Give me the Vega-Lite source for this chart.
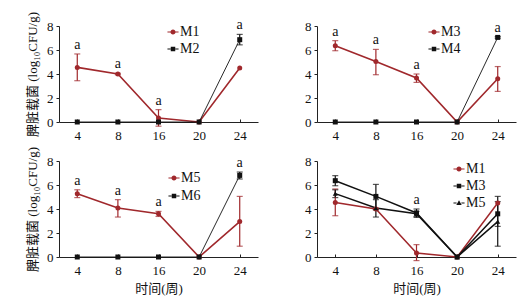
{
  "$schema": "https://vega.github.io/schema/vega-lite/v6.json",
  "background": "white",
  "padding": {"left": 26, "top": 11, "right": 5, "bottom": 5},
  "datasets": {
    "d": [
      {"p": 1, "s": "M1", "week": 4, "mean": 4.55, "lo": 3.44, "hi": 5.67, "sig": "a"},
      {"p": 1, "s": "M1", "week": 8, "mean": 4.0, "lo": 3.94, "hi": 4.06, "sig": "a"},
      {"p": 1, "s": "M1", "week": 16, "mean": 0.33, "lo": -0.35, "hi": 1.03, "sig": "a"},
      {"p": 1, "s": "M1", "week": 20, "mean": 0.0},
      {"p": 1, "s": "M1", "week": 24, "mean": 4.5},
      {"p": 1, "s": "M2", "week": 4, "mean": 0.0},
      {"p": 1, "s": "M2", "week": 8, "mean": 0.0},
      {"p": 1, "s": "M2", "week": 16, "mean": 0.0},
      {"p": 1, "s": "M2", "week": 20, "mean": 0.0},
      {"p": 1, "s": "M2", "week": 24, "mean": 6.86, "lo": 6.43, "hi": 7.3, "sig": "a"},
      {"p": 2, "s": "M3", "week": 4, "mean": 6.36, "lo": 5.94, "hi": 6.78, "sig": "a"},
      {"p": 2, "s": "M3", "week": 8, "mean": 5.05, "lo": 3.94, "hi": 6.05, "sig": "a"},
      {"p": 2, "s": "M3", "week": 16, "mean": 3.67, "lo": 3.3, "hi": 4.0, "sig": "a"},
      {"p": 2, "s": "M3", "week": 20, "mean": 0.0},
      {"p": 2, "s": "M3", "week": 24, "mean": 3.6, "lo": 2.55, "hi": 4.62},
      {"p": 2, "s": "M4", "week": 4, "mean": 0.0},
      {"p": 2, "s": "M4", "week": 8, "mean": 0.0},
      {"p": 2, "s": "M4", "week": 16, "mean": 0.0},
      {"p": 2, "s": "M4", "week": 20, "mean": 0.0},
      {"p": 2, "s": "M4", "week": 24, "mean": 7.05, "lo": 6.98, "hi": 7.12, "sig": "a"},
      {"p": 3, "s": "M5", "week": 4, "mean": 5.28, "lo": 4.95, "hi": 5.6, "sig": "a"},
      {"p": 3, "s": "M5", "week": 8, "mean": 4.08, "lo": 3.33, "hi": 4.78, "sig": "a"},
      {"p": 3, "s": "M5", "week": 16, "mean": 3.6, "lo": 3.38, "hi": 3.8, "sig": "a"},
      {"p": 3, "s": "M5", "week": 20, "mean": 0.0},
      {"p": 3, "s": "M5", "week": 24, "mean": 2.95, "lo": 0.9, "hi": 5.05},
      {"p": 3, "s": "M6", "week": 4, "mean": 0.0},
      {"p": 3, "s": "M6", "week": 8, "mean": 0.0},
      {"p": 3, "s": "M6", "week": 16, "mean": 0.0},
      {"p": 3, "s": "M6", "week": 20, "mean": 0.0},
      {"p": 3, "s": "M6", "week": 24, "mean": 6.8, "lo": 6.5, "hi": 7.08, "sig": "a"},
      {"p": 4, "s": "M1", "week": 4, "mean": 4.55, "lo": 3.44, "hi": 5.67},
      {"p": 4, "s": "M1", "week": 8, "mean": 4.0, "lo": 3.94, "hi": 4.06},
      {"p": 4, "s": "M1", "week": 16, "mean": 0.33, "lo": -0.3, "hi": 1.03},
      {"p": 4, "s": "M1", "week": 20, "mean": 0.0},
      {"p": 4, "s": "M1", "week": 24, "mean": 4.5},
      {"p": 4, "s": "M3", "week": 4, "mean": 6.36, "lo": 5.94, "hi": 6.78},
      {"p": 4, "s": "M3", "week": 8, "mean": 5.05, "lo": 3.94, "hi": 6.05},
      {"p": 4, "s": "M3", "week": 16, "mean": 3.67, "lo": 3.3, "hi": 4.0, "sig": "a"},
      {"p": 4, "s": "M3", "week": 20, "mean": 0.0},
      {"p": 4, "s": "M3", "week": 24, "mean": 3.6, "lo": 2.55, "hi": 4.62},
      {"p": 4, "s": "M5", "week": 4, "mean": 5.28, "lo": 4.95, "hi": 5.6},
      {"p": 4, "s": "M5", "week": 8, "mean": 4.08, "lo": 3.33, "hi": 4.78},
      {"p": 4, "s": "M5", "week": 16, "mean": 3.6, "lo": 3.38, "hi": 3.8},
      {"p": 4, "s": "M5", "week": 20, "mean": 0.0},
      {"p": 4, "s": "M5", "week": 24, "mean": 2.95, "lo": 0.9, "hi": 5.05}
    ]
  },
  "data": {"name": "d"},
  "vconcat": [
    {
      "hconcat": [
        {
          "width": 199, "height": 96,
          "transform": [{"filter": "datum.p == 1"}],
          "encoding": {"x": {"field": "week", "type": "ordinal", "scale": {"type": "point", "domain": [4, 8, 16, 20, 24], "padding": 0.45}, "axis": {"title": null, "labelAngle": 0, "tickSize": -3, "labelPadding": 10}}},
          "resolve": {"scale": {"color": "independent", "shape": "independent", "strokeWidth": "independent"}, "legend": {"color": "independent", "shape": "independent"}},
          "layer": [
            {"mark": {"type": "line"}, "encoding": {
              "y": {"field": "mean", "type": "quantitative", "scale": {"domain": [0, 8]}, "axis": {"title": "脾脏载菌 (log₁₀CFU/g)", "values": [0, 2, 4, 6, 8], "tickSize": 3, "labelPadding": 3, "titlePadding": 7}},
              "color": {"field": "s", "type": "nominal", "scale": {"domain": ["M1", "M2"], "range": ["#a0282c", "#111111"]}, "legend": null},
              "strokeWidth": {"field": "s", "type": "nominal", "scale": {"domain": ["M1", "M2"], "range": [1.6, 0.9]}, "legend": null}}},
            {"transform": [{"filter": "isValid(datum.lo)"}], "mark": {"type": "errorbar", "ticks": {"size": 6}, "thickness": 1.2}, "encoding": {
              "y": {"field": "lo", "type": "quantitative", "scale": {"domain": [0, 8]}, "axis": {"title": "脾脏载菌 (log₁₀CFU/g)", "values": [0, 2, 4, 6, 8], "tickSize": 3, "labelPadding": 3, "titlePadding": 7}}, "y2": {"field": "hi"},
              "color": {"field": "s", "type": "nominal", "scale": {"domain": ["M1", "M2"], "range": ["#a0282c", "#111111"]}, "legend": null}}},
            {"mark": {"type": "point", "filled": true, "opacity": 1, "size": 25}, "encoding": {
              "y": {"field": "mean", "type": "quantitative", "scale": {"domain": [0, 8]}, "axis": {"title": "脾脏载菌 (log₁₀CFU/g)", "values": [0, 2, 4, 6, 8], "tickSize": 3, "labelPadding": 3, "titlePadding": 7}},
              "color": {"field": "s", "type": "nominal", "scale": {"domain": ["M1", "M2"], "range": ["#a0282c", "#111111"]}, "legend": null},
              "shape": {"field": "s", "type": "nominal", "scale": {"domain": ["M1", "M2"], "range": ["circle", "square"]}, "legend": null}}},
            {"mark": {"type": "point", "filled": true, "opacity": 0, "size": 36}, "encoding": {
              "y": {"field": "mean", "type": "quantitative", "scale": {"domain": [0, 8]}, "axis": {"title": "脾脏载菌 (log₁₀CFU/g)", "values": [0, 2, 4, 6, 8], "tickSize": 3, "labelPadding": 3, "titlePadding": 7}},
              "color": {"field": "s", "type": "nominal", "scale": {"domain": ["M1", "M2"], "range": ["#a0282c", "#111111"]}, "legend": {"orient": "none", "legendX": 107, "legendY": -1, "title": null, "labelFontSize": 14, "labelColor": "#111111", "symbolSize": 36, "symbolOpacity": 1, "rowPadding": 3, "labelOffset": 0}},
              "shape": {"field": "s", "type": "nominal", "scale": {"domain": ["M1", "M2"], "range": ["M-1.85,-0.2H-0.8V0.2H-1.85ZM0.8,-0.2H1.85V0.2H0.8ZM0.85,0A0.85,0.85,0,1,1,-0.85,0A0.85,0.85,0,1,1,0.85,0Z", "M-1.85,-0.2H-0.8V0.2H-1.85ZM0.8,-0.2H1.85V0.2H0.8ZM-0.75,-0.75H0.75V0.75H-0.75Z"]}, "legend": {"orient": "none", "legendX": 107, "legendY": -1, "title": null, "labelFontSize": 14, "labelColor": "#111111", "symbolSize": 36, "symbolOpacity": 1, "rowPadding": 3, "labelOffset": 0}}}},
            {"transform": [{"filter": "isValid(datum.sig)"}], "mark": {"type": "text", "baseline": "alphabetic", "dy": -5, "fontSize": 14, "font": "Liberation Serif"}, "encoding": {
              "y": {"field": "hi", "type": "quantitative", "scale": {"domain": [0, 8]}, "axis": {"title": "脾脏载菌 (log₁₀CFU/g)", "values": [0, 2, 4, 6, 8], "tickSize": 3, "labelPadding": 3, "titlePadding": 7}}, "text": {"field": "sig"}, "color": {"value": "#111111"}}}
          ]
        },
        {
          "width": 199, "height": 96,
          "transform": [{"filter": "datum.p == 2"}],
          "encoding": {"x": {"field": "week", "type": "ordinal", "scale": {"type": "point", "domain": [4, 8, 16, 20, 24], "padding": 0.45}, "axis": {"title": null, "labelAngle": 0, "tickSize": -3, "labelPadding": 10}}},
          "resolve": {"scale": {"color": "independent", "shape": "independent", "strokeWidth": "independent"}, "legend": {"color": "independent", "shape": "independent"}},
          "layer": [
            {"mark": {"type": "line"}, "encoding": {
              "y": {"field": "mean", "type": "quantitative", "scale": {"domain": [0, 8]}, "axis": {"title": null, "values": [0, 2, 4, 6, 8], "tickSize": 3, "labelPadding": 3}},
              "color": {"field": "s", "type": "nominal", "scale": {"domain": ["M3", "M4"], "range": ["#a0282c", "#111111"]}, "legend": null},
              "strokeWidth": {"field": "s", "type": "nominal", "scale": {"domain": ["M3", "M4"], "range": [1.6, 0.9]}, "legend": null}}},
            {"transform": [{"filter": "isValid(datum.lo)"}], "mark": {"type": "errorbar", "ticks": {"size": 6}, "thickness": 1.2}, "encoding": {
              "y": {"field": "lo", "type": "quantitative", "scale": {"domain": [0, 8]}, "axis": {"title": null, "values": [0, 2, 4, 6, 8], "tickSize": 3, "labelPadding": 3}}, "y2": {"field": "hi"},
              "color": {"field": "s", "type": "nominal", "scale": {"domain": ["M3", "M4"], "range": ["#a0282c", "#111111"]}, "legend": null}}},
            {"mark": {"type": "point", "filled": true, "opacity": 1, "size": 25}, "encoding": {
              "y": {"field": "mean", "type": "quantitative", "scale": {"domain": [0, 8]}, "axis": {"title": null, "values": [0, 2, 4, 6, 8], "tickSize": 3, "labelPadding": 3}},
              "color": {"field": "s", "type": "nominal", "scale": {"domain": ["M3", "M4"], "range": ["#a0282c", "#111111"]}, "legend": null},
              "shape": {"field": "s", "type": "nominal", "scale": {"domain": ["M3", "M4"], "range": ["circle", "square"]}, "legend": null}}},
            {"mark": {"type": "point", "filled": true, "opacity": 0, "size": 36}, "encoding": {
              "y": {"field": "mean", "type": "quantitative", "scale": {"domain": [0, 8]}, "axis": {"title": null, "values": [0, 2, 4, 6, 8], "tickSize": 3, "labelPadding": 3}},
              "color": {"field": "s", "type": "nominal", "scale": {"domain": ["M3", "M4"], "range": ["#a0282c", "#111111"]}, "legend": {"orient": "none", "legendX": 110, "legendY": -1, "title": null, "labelFontSize": 14, "labelColor": "#111111", "symbolSize": 36, "symbolOpacity": 1, "rowPadding": 3, "labelOffset": 0}},
              "shape": {"field": "s", "type": "nominal", "scale": {"domain": ["M3", "M4"], "range": ["M-1.85,-0.2H-0.8V0.2H-1.85ZM0.8,-0.2H1.85V0.2H0.8ZM0.85,0A0.85,0.85,0,1,1,-0.85,0A0.85,0.85,0,1,1,0.85,0Z", "M-1.85,-0.2H-0.8V0.2H-1.85ZM0.8,-0.2H1.85V0.2H0.8ZM-0.75,-0.75H0.75V0.75H-0.75Z"]}, "legend": {"orient": "none", "legendX": 110, "legendY": -1, "title": null, "labelFontSize": 14, "labelColor": "#111111", "symbolSize": 36, "symbolOpacity": 1, "rowPadding": 3, "labelOffset": 0}}}},
            {"transform": [{"filter": "isValid(datum.sig)"}], "mark": {"type": "text", "baseline": "alphabetic", "dy": -5, "fontSize": 14, "font": "Liberation Serif"}, "encoding": {
              "y": {"field": "hi", "type": "quantitative", "scale": {"domain": [0, 8]}, "axis": {"title": null, "values": [0, 2, 4, 6, 8], "tickSize": 3, "labelPadding": 3}}, "text": {"field": "sig"}, "color": {"value": "#111111"}}}
          ]
        }
      ],
      "resolve": {"scale": {"color": "independent", "shape": "independent", "strokeWidth": "independent"}, "legend": {"color": "independent", "shape": "independent"}}
    },
    {
      "hconcat": [
        {
          "width": 199, "height": 96,
          "transform": [{"filter": "datum.p == 3"}],
          "encoding": {"x": {"field": "week", "type": "ordinal", "scale": {"type": "point", "domain": [4, 8, 16, 20, 24], "padding": 0.45}, "axis": {"title": "时间(周)", "labelAngle": 0, "tickSize": -3, "labelPadding": 10, "titlePadding": 5}}},
          "resolve": {"scale": {"color": "independent", "shape": "independent", "strokeWidth": "independent"}, "legend": {"color": "independent", "shape": "independent"}},
          "layer": [
            {"mark": {"type": "line"}, "encoding": {
              "y": {"field": "mean", "type": "quantitative", "scale": {"domain": [0, 8]}, "axis": {"title": "脾脏载菌 (log₁₀CFU/g)", "values": [0, 2, 4, 6, 8], "tickSize": 3, "labelPadding": 3, "titlePadding": 7}},
              "color": {"field": "s", "type": "nominal", "scale": {"domain": ["M5", "M6"], "range": ["#a0282c", "#111111"]}, "legend": null},
              "strokeWidth": {"field": "s", "type": "nominal", "scale": {"domain": ["M5", "M6"], "range": [1.6, 0.9]}, "legend": null}}},
            {"transform": [{"filter": "isValid(datum.lo)"}], "mark": {"type": "errorbar", "ticks": {"size": 6}, "thickness": 1.2}, "encoding": {
              "y": {"field": "lo", "type": "quantitative", "scale": {"domain": [0, 8]}, "axis": {"title": "脾脏载菌 (log₁₀CFU/g)", "values": [0, 2, 4, 6, 8], "tickSize": 3, "labelPadding": 3, "titlePadding": 7}}, "y2": {"field": "hi"},
              "color": {"field": "s", "type": "nominal", "scale": {"domain": ["M5", "M6"], "range": ["#a0282c", "#111111"]}, "legend": null}}},
            {"mark": {"type": "point", "filled": true, "opacity": 1, "size": 25}, "encoding": {
              "y": {"field": "mean", "type": "quantitative", "scale": {"domain": [0, 8]}, "axis": {"title": "脾脏载菌 (log₁₀CFU/g)", "values": [0, 2, 4, 6, 8], "tickSize": 3, "labelPadding": 3, "titlePadding": 7}},
              "color": {"field": "s", "type": "nominal", "scale": {"domain": ["M5", "M6"], "range": ["#a0282c", "#111111"]}, "legend": null},
              "shape": {"field": "s", "type": "nominal", "scale": {"domain": ["M5", "M6"], "range": ["circle", "square"]}, "legend": null}}},
            {"mark": {"type": "point", "filled": true, "opacity": 0, "size": 36}, "encoding": {
              "y": {"field": "mean", "type": "quantitative", "scale": {"domain": [0, 8]}, "axis": {"title": "脾脏载菌 (log₁₀CFU/g)", "values": [0, 2, 4, 6, 8], "tickSize": 3, "labelPadding": 3, "titlePadding": 7}},
              "color": {"field": "s", "type": "nominal", "scale": {"domain": ["M5", "M6"], "range": ["#a0282c", "#111111"]}, "legend": {"orient": "none", "legendX": 108, "legendY": 10, "title": null, "labelFontSize": 14, "labelColor": "#111111", "symbolSize": 36, "symbolOpacity": 1, "rowPadding": 4, "labelOffset": 0}},
              "shape": {"field": "s", "type": "nominal", "scale": {"domain": ["M5", "M6"], "range": ["M-1.85,-0.2H-0.8V0.2H-1.85ZM0.8,-0.2H1.85V0.2H0.8ZM0.85,0A0.85,0.85,0,1,1,-0.85,0A0.85,0.85,0,1,1,0.85,0Z", "M-1.85,-0.2H-0.8V0.2H-1.85ZM0.8,-0.2H1.85V0.2H0.8ZM-0.75,-0.75H0.75V0.75H-0.75Z"]}, "legend": {"orient": "none", "legendX": 108, "legendY": 10, "title": null, "labelFontSize": 14, "labelColor": "#111111", "symbolSize": 36, "symbolOpacity": 1, "rowPadding": 4, "labelOffset": 0}}}},
            {"transform": [{"filter": "isValid(datum.sig)"}], "mark": {"type": "text", "baseline": "alphabetic", "dy": -5, "fontSize": 14, "font": "Liberation Serif"}, "encoding": {
              "y": {"field": "hi", "type": "quantitative", "scale": {"domain": [0, 8]}, "axis": {"title": "脾脏载菌 (log₁₀CFU/g)", "values": [0, 2, 4, 6, 8], "tickSize": 3, "labelPadding": 3, "titlePadding": 7}}, "text": {"field": "sig"}, "color": {"value": "#111111"}}}
          ]
        },
        {
          "width": 199, "height": 96,
          "transform": [{"filter": "datum.p == 4"}],
          "encoding": {"x": {"field": "week", "type": "ordinal", "scale": {"type": "point", "domain": [4, 8, 16, 20, 24], "padding": 0.45}, "axis": {"title": "时间(周)", "labelAngle": 0, "tickSize": -3, "labelPadding": 10, "titlePadding": 5}}},
          "resolve": {"scale": {"color": "independent", "shape": "independent", "strokeWidth": "independent"}, "legend": {"color": "independent", "shape": "independent"}},
          "layer": [
            {"mark": {"type": "line", "strokeWidth": 1.5}, "encoding": {
              "y": {"field": "mean", "type": "quantitative", "scale": {"domain": [0, 8]}, "axis": {"title": null, "values": [0, 2, 4, 6, 8], "tickSize": 3, "labelPadding": 3}},
              "color": {"field": "s", "type": "nominal", "scale": {"domain": ["M1", "M3", "M5"], "range": ["#a0282c", "#111111", "#111111"]}, "legend": null}}},
            {"transform": [{"filter": "isValid(datum.lo)"}], "mark": {"type": "errorbar", "ticks": {"size": 6}, "thickness": 1.2}, "encoding": {
              "y": {"field": "lo", "type": "quantitative", "scale": {"domain": [0, 8]}, "axis": {"title": null, "values": [0, 2, 4, 6, 8], "tickSize": 3, "labelPadding": 3}}, "y2": {"field": "hi"},
              "color": {"field": "s", "type": "nominal", "scale": {"domain": ["M1", "M3", "M5"], "range": ["#a0282c", "#111111", "#111111"]}, "legend": null}}},
            {"mark": {"type": "point", "filled": true, "opacity": 1, "size": 25}, "encoding": {
              "y": {"field": "mean", "type": "quantitative", "scale": {"domain": [0, 8]}, "axis": {"title": null, "values": [0, 2, 4, 6, 8], "tickSize": 3, "labelPadding": 3}},
              "color": {"field": "s", "type": "nominal", "scale": {"domain": ["M1", "M3", "M5"], "range": ["#a0282c", "#111111", "#111111"]}, "legend": null},
              "shape": {"field": "s", "type": "nominal", "scale": {"domain": ["M1", "M3", "M5"], "range": ["circle", "square", "triangle-up"]}, "legend": null}}},
            {"mark": {"type": "point", "filled": true, "opacity": 0, "size": 36}, "encoding": {
              "y": {"field": "mean", "type": "quantitative", "scale": {"domain": [0, 8]}, "axis": {"title": null, "values": [0, 2, 4, 6, 8], "tickSize": 3, "labelPadding": 3}},
              "color": {"field": "s", "type": "nominal", "scale": {"domain": ["M1", "M3", "M5"], "range": ["#a0282c", "#111111", "#111111"]}, "legend": {"orient": "none", "legendX": 135, "legendY": 1, "title": null, "labelFontSize": 14, "labelColor": "#111111", "symbolSize": 36, "symbolOpacity": 1, "rowPadding": 3, "labelOffset": 0}},
              "shape": {"field": "s", "type": "nominal", "scale": {"domain": ["M1", "M3", "M5"], "range": ["M-1.85,-0.2H-0.8V0.2H-1.85ZM0.8,-0.2H1.85V0.2H0.8ZM0.85,0A0.85,0.85,0,1,1,-0.85,0A0.85,0.85,0,1,1,0.85,0Z", "M-1.85,-0.2H-0.8V0.2H-1.85ZM0.8,-0.2H1.85V0.2H0.8ZM-0.75,-0.75H0.75V0.75H-0.75Z", "M-1.85,-0.2H-0.8V0.2H-1.85ZM0.8,-0.2H1.85V0.2H0.8ZM0,-0.95L0.9,0.7H-0.9Z"]}, "legend": {"orient": "none", "legendX": 135, "legendY": 1, "title": null, "labelFontSize": 14, "labelColor": "#111111", "symbolSize": 36, "symbolOpacity": 1, "rowPadding": 3, "labelOffset": 0}}}},
            {"transform": [{"filter": "isValid(datum.sig)"}], "mark": {"type": "text", "baseline": "alphabetic", "dy": -5, "fontSize": 14, "font": "Liberation Serif"}, "encoding": {
              "y": {"field": "hi", "type": "quantitative", "scale": {"domain": [0, 8]}, "axis": {"title": null, "values": [0, 2, 4, 6, 8], "tickSize": 3, "labelPadding": 3}}, "text": {"field": "sig"}, "color": {"value": "#111111"}}}
          ]
        }
      ],
      "resolve": {"scale": {"color": "independent", "shape": "independent", "strokeWidth": "independent"}, "legend": {"color": "independent", "shape": "independent"}}
    }
  ],
  "resolve": {"scale": {"color": "independent", "shape": "independent", "strokeWidth": "independent"}, "legend": {"color": "independent", "shape": "independent"}},
  "spacing": 4,
  "config": {
    "font": "Liberation Serif",
    "view": {"stroke": null},
    "concat": {"spacing": 46},
    "axis": {"grid": false, "domainColor": "#222222", "tickColor": "#222222", "labelColor": "#111111", "titleColor": "#111111", "labelFont": "Liberation Serif", "labelFontSize": 13, "titleFont": "Liberation Serif, Noto Sans CJK SC", "titleFontSize": 13, "titleFontWeight": "normal"},
    "legend": {"labelFont": "Liberation Serif"}
  }
}
